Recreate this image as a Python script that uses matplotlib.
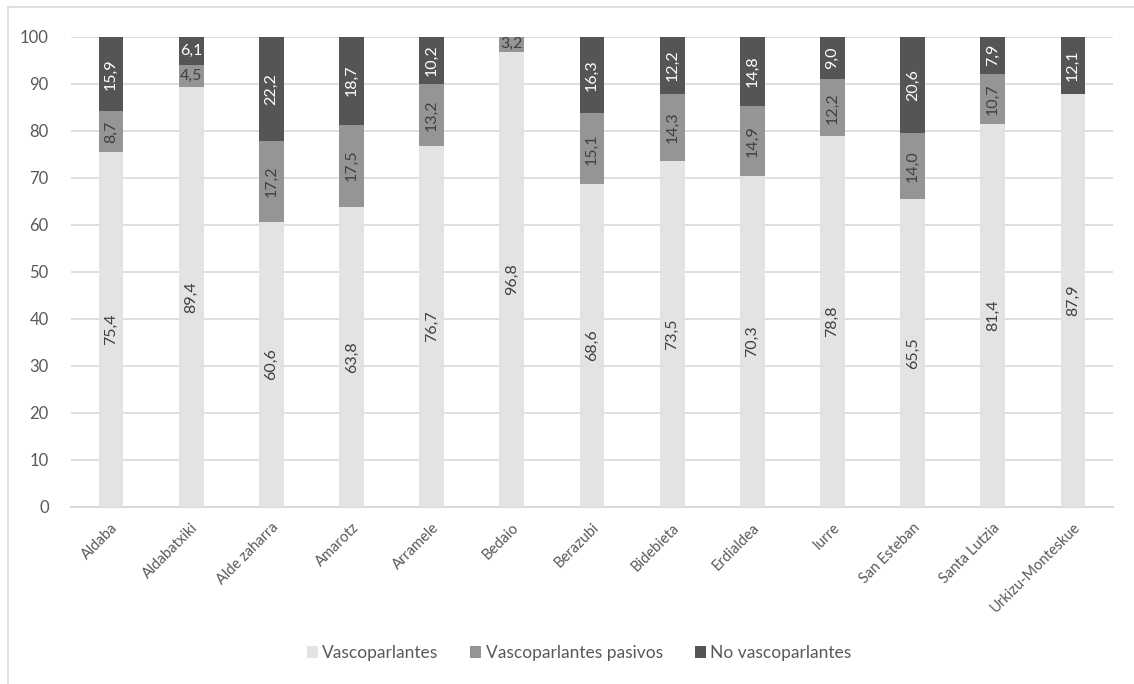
import numpy as np
import matplotlib.pyplot as plt
from matplotlib.patches import Rectangle

plt.rcParams['font.family'] = ['Lato', 'DejaVu Sans']

barrios = ['Aldaba', 'Aldabatxiki', 'Alde zaharra', 'Amarotz', 'Arramele', 'Bedaio',
           'Berazubi', 'Bidebieta', 'Erdialdea', 'Iurre', 'San Esteban', 'Santa Lutzia',
           'Urkizu-Monteskue']
vascoparlantes = [75.4, 89.4, 60.6, 63.8, 76.7, 96.8, 68.6, 73.5, 70.3, 78.8, 65.5, 81.4, 87.9]
pasivos = [8.7, 4.5, 17.2, 17.5, 13.2, 3.2, 15.1, 14.3, 14.9, 12.2, 14.0, 10.7, 0.0]
no_vasco = [15.9, 6.1, 22.2, 18.7, 10.2, 0.0, 16.3, 12.2, 14.8, 9.0, 20.6, 7.9, 12.1]

series = [('Vascoparlantes', vascoparlantes, '#e3e3e3', '#404040'),
          ('Vascoparlantes pasivos', pasivos, '#959595', '#404040'),
          ('No vascoparlantes', no_vasco, '#555555', 'white')]

txt_col = '#595959'
grid_col = '#d9d9d9'

fig = plt.figure(figsize=(11.34, 6.84), dpi=100)
ax = fig.add_axes([0.0626, 0.2592, 0.9189, 0.6871])

# outer frame of the chart area
fig.patches.append(Rectangle((8 / 1134, -0.1), 1.2, 1 - 6.5 / 684 + 0.1,
                             transform=fig.transFigure, fill=False,
                             edgecolor=grid_col, linewidth=1.2))

x = np.arange(len(barrios))
base = np.zeros(len(barrios))
for nombre, vals, col, lab_col in series:
    vals = np.array(vals)
    ax.bar(x, vals, width=0.31, bottom=base, color=col, label=nombre, zorder=3)
    for xi, b, v in zip(x, base, vals):
        if v <= 0:
            continue
        rot = 90 if v >= 7 else 0
        ax.text(xi, b + v / 2, f'{v:.1f}'.replace('.', ','), ha='center', va='center',
                rotation=rot, color=lab_col, fontsize=11.5, zorder=4)
    base = base + vals

ax.set_ylim(0, 100)
ax.set_xlim(-0.5, len(barrios) - 0.5)
ax.set_yticks(range(0, 101, 10))
ax.yaxis.grid(True, color=grid_col, linewidth=1.2, zorder=0)
ax.set_axisbelow(True)
for s in ['top', 'right', 'left']:
    ax.spines[s].set_visible(False)
ax.spines['bottom'].set_color(grid_col)
ax.spines['bottom'].set_linewidth(1.5)
ax.tick_params(length=0, colors=txt_col, labelsize=12)
ax.tick_params(axis='y', pad=16)
ax.set_xticks(x)
ax.set_xticklabels(barrios, rotation=45, ha='right', rotation_mode='anchor', fontsize=10.5)
ax.tick_params(axis='x', pad=10)

fig.legend(loc='center', bbox_to_anchor=(579 / 1134, 1 - 653 / 684), ncol=3, frameon=False,
           fontsize=12.5, labelcolor=txt_col, handlelength=0.63, handleheight=0.63,
           handletextpad=0.25, columnspacing=1.85)

fig.savefig('out.png', dpi=100)
